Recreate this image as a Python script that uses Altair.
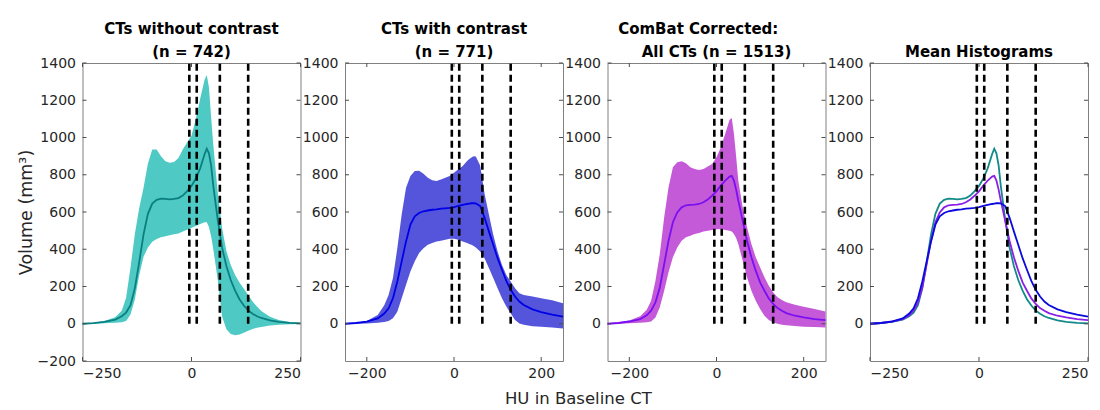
import altair as alt
import pandas as pd

# HU grid (x positions of the sampled curves)
HU = [-250, -225, -200, -175, -160, -150, -140, -130, -120, -110, -100, -90, -80, -70,
      -60, -50, -40, -30, -20, -10, 0, 10, 20, 30, 35, 40, 45, 50, 60, 70, 80, 90,
      100, 110, 120, 130, 140, 150, 160, 180, 200, 225, 250]

# CTs without contrast
nc_mean = [0, 3, 10, 22, 40, 60, 100, 190, 330, 480, 590, 645, 665, 672,
           670, 668, 670, 675, 688, 712, 740, 780, 835, 910, 940, 915, 850, 740, 560, 410, 310, 235,
           178, 132, 98, 72, 54, 40, 31, 18, 10, 5, 2]
nc_hi = [3, 6, 15, 35, 70, 140, 300, 480, 620, 730, 860, 935, 935, 900,
         872, 865, 868, 890, 935, 975, 1010, 1100, 1210, 1310, 1335, 1270, 1110, 960, 710, 515, 390, 315,
         262, 222, 188, 155, 120, 92, 68, 38, 20, 10, 5]
nc_lo = [-3, 0, 3, 5, 8, 15, 50, 130, 260, 360, 410, 440, 455, 465,
         470, 475, 480, 485, 495, 505, 515, 525, 535, 545, 545, 520, 470, 400, 240, 40, -30, -55,
         -62, -58, -48, -38, -28, -22, -17, -10, -6, -3, -2]

# CTs with contrast
c_mean = [0, 4, 11, 29, 55, 83, 137, 227, 335, 442, 532, 577, 595, 604,
          608, 612, 614, 618, 620, 622, 626, 633, 638, 643, 645, 647, 647, 646, 632, 570, 496, 424,
          352, 290, 230, 182, 146, 119, 101, 77, 62, 49, 38]
c_hi = [2, 6, 15, 47, 100, 155, 245, 406, 586, 730, 793, 820, 822, 805,
        784, 770, 766, 775, 784, 793, 811, 829, 847, 874, 885, 892, 899, 898, 850, 700, 586, 478,
        388, 316, 262, 227, 190, 164, 155, 146, 137, 126, 110]
c_lo = [-2, 0, 2, 5, 10, 15, 29, 65, 137, 209, 281, 335, 380, 406,
        424, 433, 442, 446, 451, 457, 457, 451, 442, 433, 428, 424, 418, 410, 388, 352, 299, 245,
        191, 137, 92, 56, 20, 2, -6, -13, -16, -20, -25]

# ComBat corrected, all CTs
cb_mean = [0, 4, 12, 25, 45, 70, 115, 195, 320, 446, 545, 598, 625, 636,
           638, 640, 643, 652, 667, 688, 711, 742, 769, 790, 794, 769, 720, 661, 554, 446, 357, 285,
           222, 177, 136, 106, 84, 70, 57, 43, 34, 25, 20]
cb_hi = [3, 8, 18, 40, 75, 124, 231, 375, 572, 733, 840, 867, 873, 862,
         840, 831, 826, 831, 844, 858, 894, 948, 1020, 1095, 1105, 1020, 900, 769, 625, 518, 428, 357,
         303, 249, 204, 168, 142, 128, 115, 102, 91, 79, 66]
cb_lo = [-3, 0, 3, 5, 8, 12, 34, 88, 177, 276, 357, 410, 446, 464,
         473, 482, 487, 495, 500, 504, 507, 509, 504, 500, 495, 482, 460, 428, 339, 249, 177, 124,
         79, 43, 20, 7, 0, -5, -8, -12, -16, -18, -20]

thresholds = [-5, 12, 65, 130]
yticks_first = [-200, 0, 200, 400, 600, 800, 1000, 1200, 1400]
yticks_other = [0, 200, 400, 600, 800, 1000, 1200, 1400]
xticks_a = [-250, 0, 250]
xticks_b = [-200, 0, 200]

W, H = 218, 298
TL = 4  # inward tick length
FONT = "DejaVu Sans"
TICK_COLOR = "#4d4d4d"
XS = alt.Scale(domain=[-250, 250], nice=False, zero=False)
YS = alt.Scale(domain=[-200, 1400], nice=False, zero=False)

thr_df = pd.DataFrame({"HU": thresholds})


def xaxis(vals):
    return alt.Axis(values=vals, title=None, format="d", labelOverlap=False, labelPadding=5)


def yaxis(vals, title=None):
    kw = dict(values=vals, format="d", labelOverlap=False, labelPadding=7)
    if title:
        kw.update(title=title, titleFontWeight="normal", titleFontSize=17.5,
                  titleColor="#262626", titleFont=FONT, titlePadding=2)
    else:
        kw.update(title=None)
    return alt.Axis(**kw)


def rules(xa, ya):
    return alt.Chart(thr_df).mark_rule(color="black", strokeWidth=2.6, strokeDash=[7, 4]).encode(
        x=alt.X("HU:Q", scale=XS, axis=xa),
        y=alt.datum(0, scale=YS, axis=ya),
        y2=alt.datum(1400),
    )


def inner_ticks(xvals, yvals, xa, ya):
    ydf = pd.DataFrame({"v": yvals})
    xdf = pd.DataFrame({"v": xvals})
    yl = alt.Chart(ydf).mark_rule(color=TICK_COLOR, strokeWidth=1).encode(
        y=alt.Y("v:Q", scale=YS, axis=ya), x=alt.value(0), x2=alt.value(TL))
    yr = alt.Chart(ydf).mark_rule(color=TICK_COLOR, strokeWidth=1).encode(
        y=alt.Y("v:Q", scale=YS, axis=ya), x=alt.value(W - TL), x2=alt.value(W))
    xb = alt.Chart(xdf).mark_rule(color=TICK_COLOR, strokeWidth=1).encode(
        x=alt.X("v:Q", scale=XS, axis=xa), y=alt.value(H - TL), y2=alt.value(H))
    xt = alt.Chart(xdf).mark_rule(color=TICK_COLOR, strokeWidth=1).encode(
        x=alt.X("v:Q", scale=XS, axis=xa), y=alt.value(0), y2=alt.value(TL))
    return [yl, yr, xb, xt]


def band_panel(title, band_color, line_color, mean, lo, hi, xvals, yvals, ytitle=None):
    xa, ya = xaxis(xvals), yaxis(yvals, ytitle)
    df = pd.DataFrame({"HU": HU, "mean": mean, "lo": lo, "hi": hi})
    band = alt.Chart(df).mark_area(color=band_color, opacity=1).encode(
        x=alt.X("HU:Q", scale=XS, axis=xa),
        y=alt.Y("lo:Q", scale=YS, axis=ya),
        y2="hi:Q",
    )
    line = alt.Chart(df).mark_line(color=line_color, strokeWidth=1.8).encode(
        x=alt.X("HU:Q", scale=XS, axis=xa),
        y=alt.Y("mean:Q", scale=YS, axis=ya),
    )
    return alt.layer(band, line, rules(xa, ya), *inner_ticks(xvals, yvals, xa, ya)).properties(
        width=W, height=H, title=alt.TitleParams(title))


p1 = band_panel(["CTs without contrast", "(n = 742)"], "#4ec9c4", "#0b7f80",
                nc_mean, nc_lo, nc_hi, xticks_a, yticks_first, "Volume (mm³)")
p2 = band_panel(["CTs with contrast", "(n = 771)"], "#5555dc", "#0000e6",
                c_mean, c_lo, c_hi, xticks_b, yticks_other)
p3 = band_panel(["ComBat Corrected:" + "\u00a0" * 7 + "\u200b", "All CTs (n = 1513)"],
                "#c55ad9", "#7a10f0",
                cb_mean, cb_lo, cb_hi, xticks_b, yticks_other)

mean_df = pd.DataFrame({
    "HU": HU * 3,
    "value": nc_mean + cb_mean + c_mean,
    "series": ["Without contrast"] * len(HU) + ["ComBat"] * len(HU) + ["With contrast"] * len(HU),
})
xa4, ya4 = xaxis(xticks_a), yaxis(yticks_other)
mlines = alt.Chart(mean_df).mark_line(strokeWidth=1.8).encode(
    x=alt.X("HU:Q", scale=XS, axis=xa4),
    y=alt.Y("value:Q", scale=YS, axis=ya4),
    color=alt.Color("series:N", scale=alt.Scale(
        domain=["Without contrast", "ComBat", "With contrast"],
        range=["#13898a", "#8a20e6", "#0a0adc"]), legend=None),
    order=alt.Order("series:N"),
)
p4 = alt.layer(mlines, rules(xa4, ya4), *inner_ticks(xticks_a, yticks_other, xa4, ya4)).properties(
    width=W, height=H, title=alt.TitleParams("Mean Histograms"))

chart = alt.hconcat(p1, p2, p3, p4, spacing=44.5, bounds="flush").properties(
    padding={"left": 16.5, "top": 21, "right": 5, "bottom": 5},
    title=alt.TitleParams("HU in Baseline CT", orient="bottom", anchor="middle",
                          fontWeight="normal", fontSize=16.5, color="#262626", font=FONT,
                          offset=10, dx=24),
).configure_view(
    stroke="#808080", strokeWidth=1
).configure_axis(
    grid=False, ticks=False, domain=False, labelFont=FONT, labelFontSize=14,
    labelColor="#262626", labelOverlap=False,
).configure_title(
    font=FONT, fontSize=15, fontWeight="bold", color="black", lineHeight=23, offset=-4,
    anchor="middle",
)

chart.save("out.html", embed_options={"renderer": "svg", "actions": False})
